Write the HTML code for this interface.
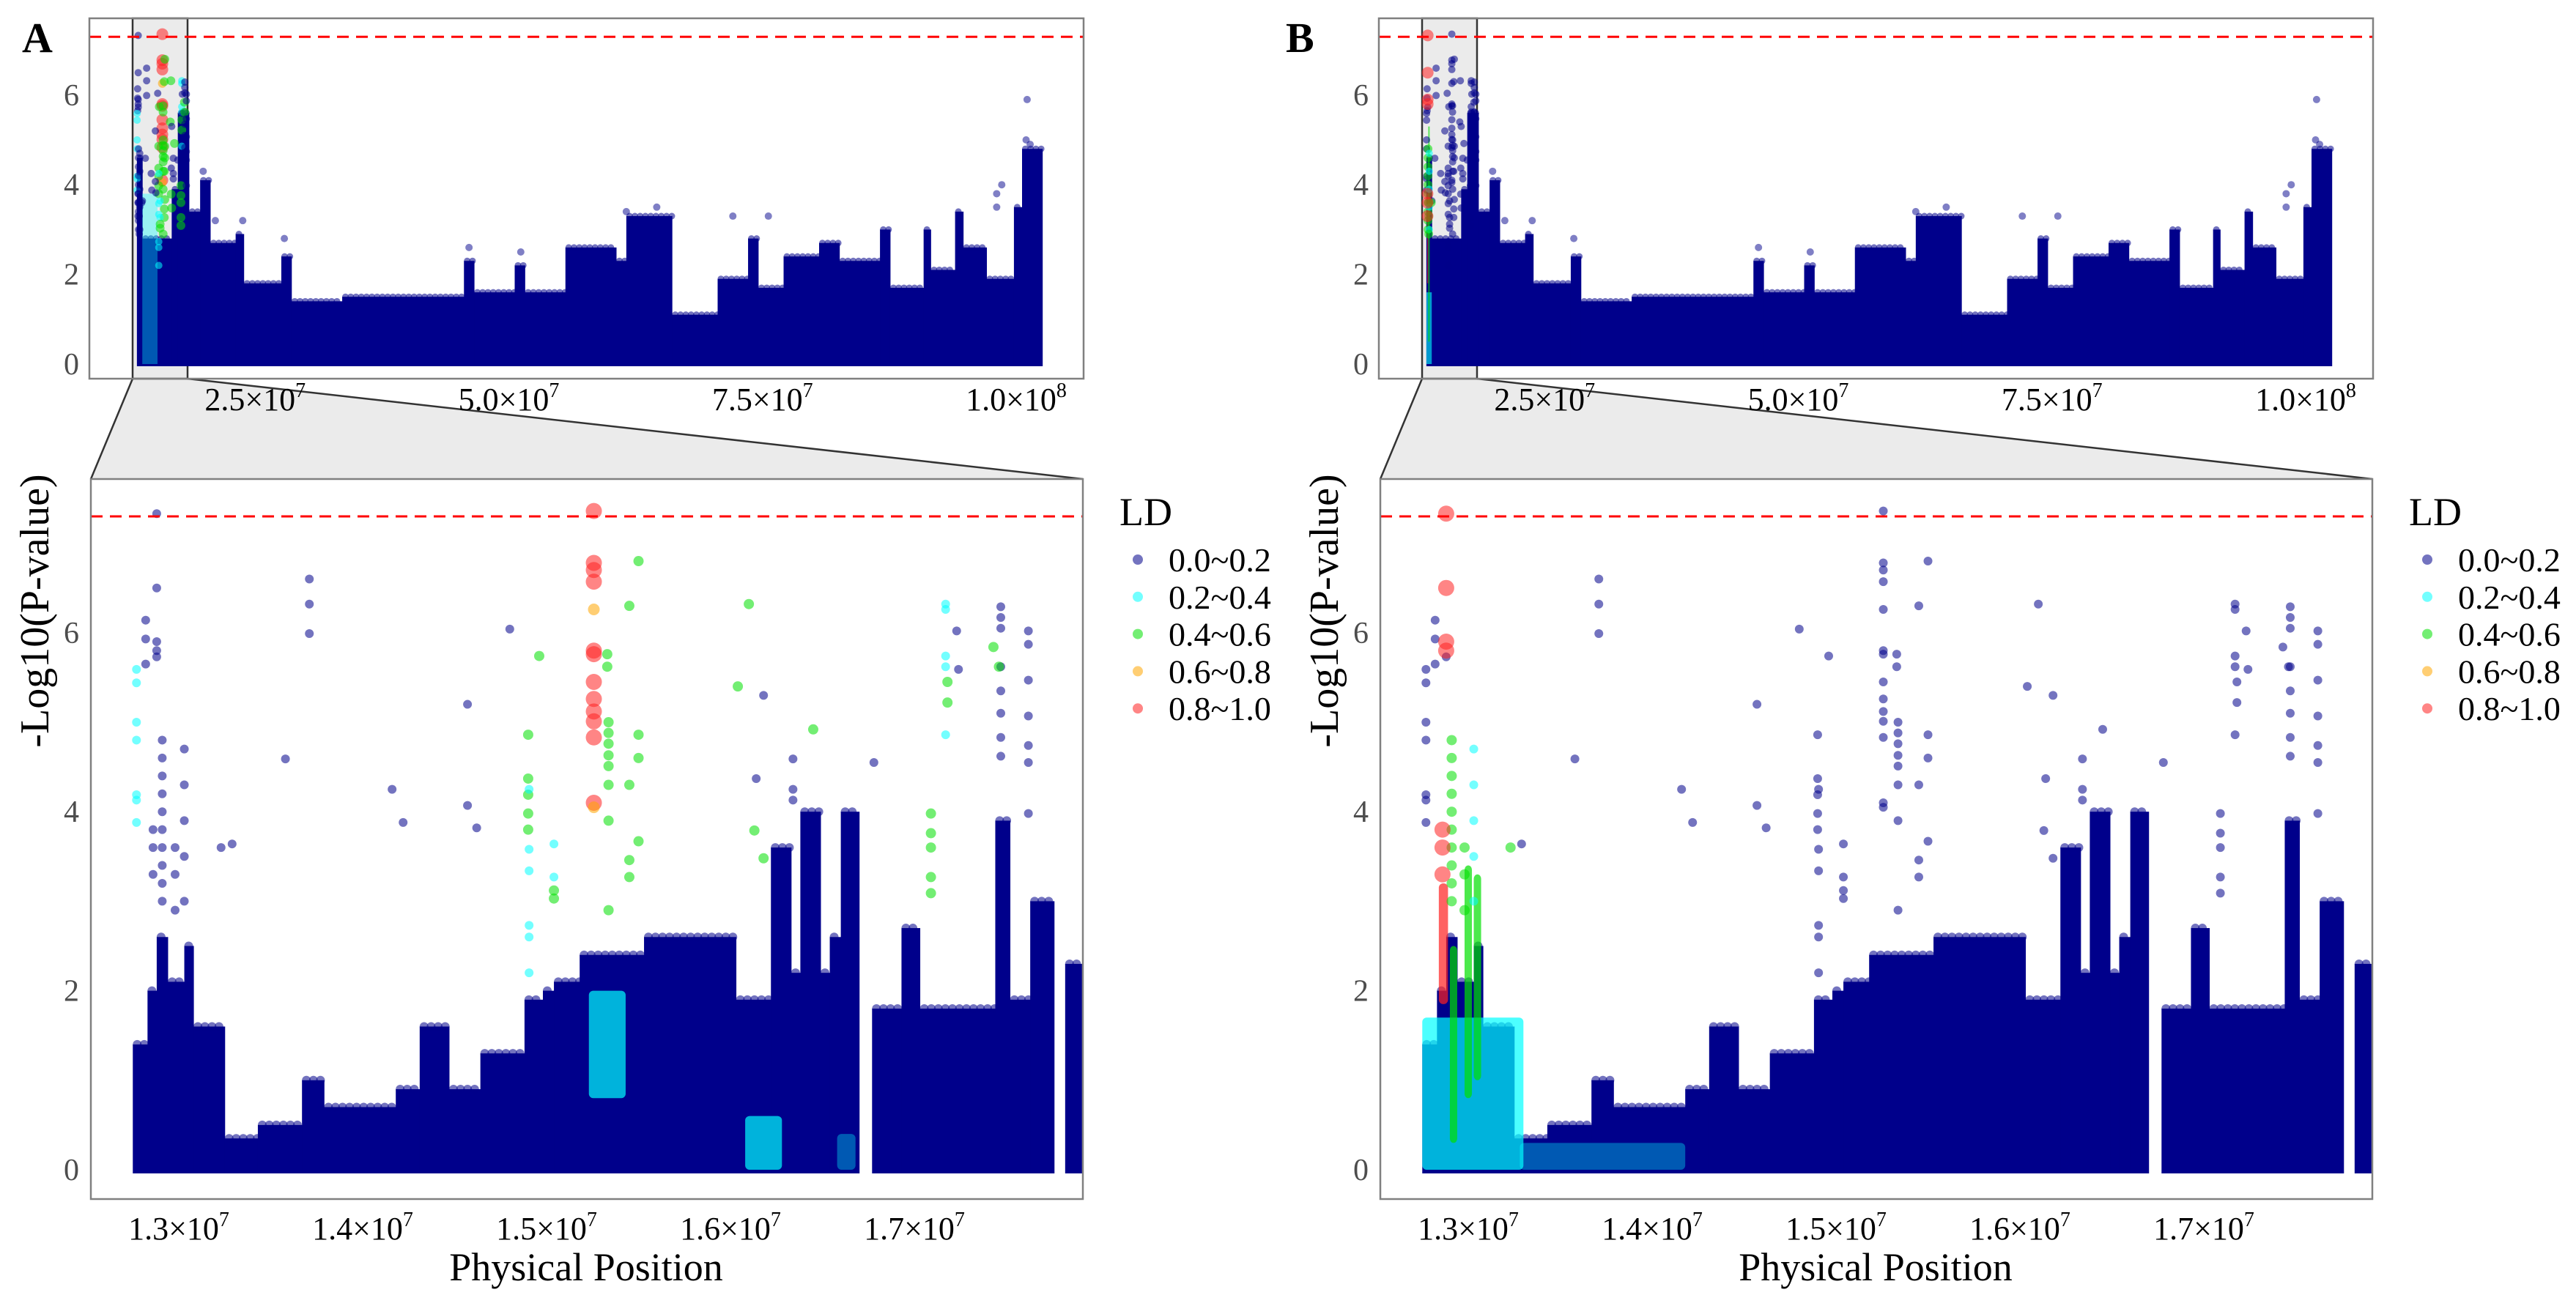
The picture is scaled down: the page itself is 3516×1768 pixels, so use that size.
<!DOCTYPE html>
<html><head><meta charset="utf-8"><style>
html,body{margin:0;padding:0;background:#fff;}
svg{display:block;font-family:"Liberation Serif","DejaVu Serif",serif;}
</style></head><body>
<svg id="fig" width="3516" height="1768" viewBox="0 0 3516 1768"></svg>
<script>
// ---------- DATA ----------
const topStart  = [12.77,13.3,16.2,16.8,17.9,19,20,22.5,23.3,27,28,33,45,46,50,51,55,60,61,65.5,70,73,74,76.5,80,82,86,87,90.3,91,93.4,94.2,96.5,99.2,100];
const topEnd    = [13.3,16.2,16.8,17.9,19,20,22.5,23.3,27,28,33,45,46,50,51,55,60,61,65.5,70,73,74,76.5,80,82,86,87,90.3,91,93.4,94.2,96.5,99.2,100,102];
const topHeight = [4.6,2.8,3.9,5.6,3.4,4.1,2.7,2.9,1.8,2.4,1.4,1.5,2.3,1.6,2.2,1.6,2.6,2.3,3.3,1.1,1.9,2.8,1.7,2.4,2.7,2.3,3.0,1.7,3.0,2.1,3.4,2.6,1.9,3.5,4.8];
const topOutPos = [23.2,27.3,45.5,50.6,61,64,71.5,75,97.5,97.5,98,100.5,100.4,100.8,19.3,20.5];
const topOutVal = [3.2,2.8,2.6,2.5,3.4,3.5,3.3,3.3,3.5,3.8,4.0,5.9,5.0,4.9,4.3,3.2];
const binStart  = [12.77,12.85,12.90,12.96,13.05,13.10,13.27,13.45,13.69,13.81,14.20,14.33,14.49,14.66,14.90,15.00,15.06,15.20,15.55,16.05,16.24,16.35,16.40,16.51,16.56,16.62,16.79,16.95,17.05,17.46,17.54,17.65,17.84];
const binEnd    = [12.85,12.90,12.96,13.05,13.10,13.27,13.45,13.69,13.81,14.20,14.33,14.49,14.66,14.90,15.00,15.06,15.20,15.55,16.05,16.24,16.35,16.40,16.51,16.56,16.62,16.72,16.95,17.05,17.46,17.54,17.65,17.78,17.93];
const binHeight = [1.4,2.0,2.6,2.1,2.5,1.6,0.35,0.5,1.0,0.7,0.9,1.6,0.9,1.3,1.9,2.0,2.1,2.4,2.6,1.9,3.6,2.2,4.0,2.2,2.6,4.0,1.8,2.7,1.8,3.9,1.9,3.0,2.3];
const ovStart = [15.25,16.1,16.6,12.77,13.3,12.92,13.0,12.86,13.05];
const ovEnd   = [15.45,16.3,16.7,13.32,14.2,12.96,13.04,12.91,13.09];
const ovLow   = [0.8,0,0,0,0,0.3,0.8,1.85,1.0];
const ovHigh  = [2.0,0.6,0.4,1.7,0.3,2.5,3.4,3.2,3.3];
const ovPanel = ["A","A","A","B","B","B","B","B","B"];
const ovLd    = [1,1,1,1,1,2,2,4,2];
const snpPos = [15.277,15.277,15.277,15.277,15.277,15.277,15.277,15.277,15.277,15.277,15.277,15.277,15.277,15.277,
 15.357,15.357,15.357,15.357,15.357,15.357,15.357,15.357,15.35,15.35,
 15.52,15.52,15.52,15.52,15.47,15.47,15.47,15.47,14.98,14.92,14.92,14.92,14.92,14.92,
 14.925,14.925,14.925,14.925,14.925,14.925,15.06,15.06,15.06,15.06,
 16.12,16.06,16.47,16.15,16.2,
 12.9,12.9,12.9,12.84,12.84,12.84,12.79,12.79,12.79,12.79,12.79,12.79,12.79,
 13.73,13.73,13.73,13.6,14.18,14.24,14.59,14.59,14.64,14.82,13.31,
 16.2,16.36,16.36,16.36,16.16,
 17.19,17.19,17.19,17.19,17.19,17.2,17.2,17.11,17.11,17.11,17.11,17.11,17.25,17.26,
 17.49,17.49,17.49,17.49,17.49,17.49,17.49,17.49,17.45,17.48,
 17.64,17.64,17.64,17.64,17.64,17.64,17.64,16.8,
 12.9,12.9,12.93,12.93,12.93,12.93,12.93,12.93,12.93,12.93,12.93,12.93,
 13.05,13.05,13.05,13.05,13.05,13.0,13.0,13.0,13.25,12.88,12.88,12.88];
const snpVal = [7.36,6.78,6.7,6.57,6.26,5.8,5.76,5.45,5.26,5.12,5.01,4.83,4.1,4.05,
 5.0,4.88,4.76,4.63,4.51,4.3,3.9,2.9,5.76,5.62,
 6.8,4.86,4.6,3.67,6.3,4.3,3.46,3.27,5.74,4.86,4.37,4.19,3.98,3.8,
 4.25,3.58,3.34,2.73,2.6,2.2,3.64,3.27,3.12,3.03,
 6.32,5.4,4.92,3.79,3.48,
 7.33,6.5,5.73,6.14,5.93,5.65,5.59,5.44,5.0,4.8,4.19,4.13,3.88,
 6.6,6.32,5.99,4.59,4.25,3.88,5.2,4.07,3.82,6.04,3.64,
 5.3,4.59,4.25,4.13,4.37,
 6.32,6.26,5.74,5.62,4.86,5.45,5.22,3.98,3.76,3.6,3.27,3.09,6.02,5.59,
 6.29,6.17,6.05,5.62,5.35,5.1,4.83,4.62,5.84,5.62,
 6.02,5.87,5.47,5.07,4.74,4.55,3.98,4.55,
 5.9,5.8,4.8,4.6,4.4,4.2,4.0,3.8,3.6,3.4,3.2,3.0,
 4.7,4.3,3.9,3.5,3.0,3.6,3.3,2.9,3.6,3.8,3.6,3.3];
const snpLdA = [4,4,4,4,3,4,4,4,4,4,4,4,4,3,
 2,2,2,2,2,2,2,2,2,2, 2,2,2,2,2,2,2,2,2,2,2,2,2,2, 1,1,1,1,1,1,1,1,2,2, 2,2,2,2,2,
 0,0,0,0,0,0,1,1,1,1,1,1,1, 0,0,0,0,0,0,0,0,0,0,0, 0,0,0,0,0,
 1,1,1,1,1,2,2,2,2,2,2,2,0,0, 0,0,0,0,0,0,0,0,2,2, 0,0,0,0,0,0,0,0,
 0,0,0,0,0,0,0,0,0,0,0,0, 0,0,0,0,0,0,0,0,0,0,0,0];
const snpLdB = [0,0,0,0,0,0,0,0,0,0,0,0,0,0,
 0,0,0,0,0,0,0,0,0,0, 0,0,0,0,0,0,0,0,0,0,0,0,0,0, 0,0,0,0,0,0,0,0,0,0, 0,0,0,0,0,
 4,4,0,0,0,0,0,0,0,0,0,0,0, 0,0,0,0,0,0,0,0,0,0,0, 0,0,0,0,0,
 0,0,0,0,0,0,0,0,0,0,0,0,0,0, 0,0,0,0,0,0,0,0,0,0, 0,0,0,0,0,0,0,0,
 4,4,2,2,2,2,2,2,2,2,2,2, 1,1,1,1,1,2,2,2,2,4,4,4];
const ldLabels = ["0.0~0.2","0.2~0.4","0.4~0.6","0.6~0.8","0.8~1.0"];
const topTicks = [25,50,75,100];
const topTickLabels = ["2.5","5.0","7.5","1.0"];
const topTickExp = ["7","7","7","8"];
const botTicks = [13,14,15,16,17];
const botTickLabels = ["1.3","1.4","1.5","1.6","1.7"];
const yTicks = [0,2,4,6];
const threshold = 7.3;

// ---------- DRAW ----------
const NS="http://www.w3.org/2000/svg";
const svg=document.getElementById('fig');
const ldColor=["#00008B","#00FFFF","#00E000","#FFA500","#FF2020"];
function mk(tag,attrs,parent){const e=document.createElementNS(NS,tag);for(const k in attrs)e.setAttribute(k,attrs[k]);(parent||svg).appendChild(e);return e;}
function massBin(parent,x0,x1,yTop,yBase,r){
  const rect=mk('rect',{x:x0,y:yTop,width:x1-x0+0.5,height:yBase-yTop,fill:'#00008B'},parent);
  
  
  for(let x=x0+r;x<=x1;x+=r*1.6){
    const c=mk('circle',{cx:x,cy:yTop,r:r,fill:'#00008B','fill-opacity':0.55},parent);
    
    
  }
}

function drawPanel(label,off){
  const g=mk('g',{});
  
  
  const tx=v=>off+10+v*13.85, ty=v=>497-v*61.2;
  const bx=v=>off+239+(v-13)*251, by=v=>1597-v*122.2;
  const ldOf=i=>label==="A"?snpLdA[i]:snpLdB[i];
  const tri=mk('polygon',{points:`${off+181},517 ${off+256},517 ${off+1478},654 ${off+124},654`,fill:'#ebebeb',stroke:'none'},g);
  
  mk('line',{x1:off+181,y1:517,x2:off+124,y2:654,stroke:'#333',"stroke-width":2.5},g);
  mk('line',{x1:off+256,y1:517,x2:off+1478,y2:654,stroke:'#333',"stroke-width":2.5},g);
  // top panel
  const tp=mk('g',{},g);
  
  mk('rect',{x:off+122,y:25,width:1357,height:492,fill:'#fff'},tp);
  const hl=mk('rect',{x:off+181,y:25,width:75,height:492,fill:'#ebebeb',stroke:'#333',"stroke-width":2.5},tp);
  
  for(let i=0;i<topStart.length;i++) massBin(tp,tx(topStart[i]),tx(topEnd[i]),ty(topHeight[i]),ty(0)+3,4.5);
  if(label==="B"){
    const r=mk('rect',{x:tx(12.77),y:ty(1.6),width:tx(13.3)-tx(12.77),height:ty(0)-ty(1.6),fill:'#00FFFF','fill-opacity':0.6},tp);
    
    const r2=mk('rect',{x:tx(12.86),y:ty(3.8),width:tx(12.95)-tx(12.86),height:ty(1.8)-ty(3.8),fill:'#FF2020','fill-opacity':0.7},tp);
    
    const r3=mk('rect',{x:tx(12.95),y:ty(5.3),width:tx(13.1)-tx(12.95),height:ty(0.5)-ty(5.3),fill:'#00E000','fill-opacity':0.6},tp);
    
  } else {
    const r=mk('rect',{x:tx(13.3),y:ty(3.8),width:tx(14.8)-tx(13.3),height:ty(0)-ty(3.8),fill:'#00FFFF','fill-opacity':0.35},tp);
    
  }
  for(let i=0;i<topOutPos.length;i++){
    const c=mk('circle',{cx:tx(topOutPos[i]),cy:ty(topOutVal[i]),r:5,fill:'#00008B','fill-opacity':0.5},tp);
    
  }
  for(let i=0;i<snpPos.length;i++){
    const ld=ldOf(i);
    const c=mk('circle',{cx:tx(snpPos[i]),cy:ty(snpVal[i]),r:ld===4?8:(ld>=2?6:5),fill:ldColor[ld],'fill-opacity':0.55},tp);
    
  }
  mk('line',{x1:off+122,y1:ty(threshold),x2:off+1479,y2:ty(threshold),stroke:'#ff0000',"stroke-width":3,"stroke-dasharray":"16 10"},tp);
  mk('rect',{x:off+122,y:25,width:1357,height:492,fill:'none',stroke:'#808080',"stroke-width":2.5},tp);
  yTicks.forEach(v=>{const t=mk('text',{x:off+108,y:ty(v)+14,'text-anchor':'end','font-size':42,fill:'#4d4d4d'},tp);t.textContent=v;
    });
  topTicks.forEach((v,i)=>{const t=mk('text',{x:tx(v)-8,y:560,'text-anchor':'middle','font-size':44,fill:'#000'},tp);
    t.textContent=topTickLabels[i]+"×10";const s=mk('tspan',{dy:-18,'font-size':28},t);s.textContent=topTickExp[i];
    });
  const pl=mk('text',{x:off+(label==="A"?30:-5),y:71,'font-size':58,'font-weight':'bold',fill:'#000'},g);pl.textContent=label;
  

  // bottom panel
  const bp=mk('g',{},g);
  
  mk('rect',{x:off+124,y:654,width:1354,height:983,fill:'#fff'},bp);
  for(let i=0;i<binStart.length;i++) massBin(bp,bx(binStart[i]),bx(binEnd[i]),by(binHeight[i]),by(0)+5,6);
  for(let i=0;i<ovStart.length;i++){
    if(ovPanel[i]!==label) continue;
    const r=mk('rect',{x:bx(ovStart[i]),y:by(ovHigh[i]),width:bx(ovEnd[i])-bx(ovStart[i]),height:by(ovLow[i])-by(ovHigh[i]),fill:ldColor[ovLd[i]],'fill-opacity':ovLow[i]===0&&ovHigh[i]<0.5?0.35:0.7,rx:6},bp);
    
  }
  for(let i=0;i<snpPos.length;i++){
    const ld=ldOf(i);
    const c=mk('circle',{cx:bx(snpPos[i]),cy:by(snpVal[i]),r:[6,6,7,8,11][ld],fill:ldColor[ld],'fill-opacity':0.55},bp);
    
  }
  mk('line',{x1:off+124,y1:by(threshold),x2:off+1478,y2:by(threshold),stroke:'#ff0000',"stroke-width":3,"stroke-dasharray":"16 10"},bp);
  mk('rect',{x:off+124,y:654,width:1354,height:983,fill:'none',stroke:'#808080',"stroke-width":2.5},bp);
  yTicks.forEach(v=>{const t=mk('text',{x:off+108,y:by(v)+14,'text-anchor':'end','font-size':42,fill:'#4d4d4d'},bp);t.textContent=v;
    });
  botTicks.forEach((v,i)=>{const t=mk('text',{x:bx(v)+5,y:1692,'text-anchor':'middle','font-size':44,fill:'#000'},bp);
    t.textContent=botTickLabels[i]+"×10";const s=mk('tspan',{dy:-18,'font-size':28},t);s.textContent="7";
    });
  const xt=mk('text',{x:off+800,y:1748,'text-anchor':'middle','font-size':54,fill:'#000'},bp);xt.textContent="Physical Position";
  
  const yt=mk('text',{x:0,y:0,'text-anchor':'middle','font-size':56,fill:'#000',transform:`translate(${off+66},834) rotate(-90)`},bp);yt.textContent="-Log10(P-value)";
  

  const lg=mk('g',{},g);
  
  const lt=mk('text',{x:off+1528,y:717,'font-size':54,fill:'#000'},lg);lt.textContent="LD";
  
  ldLabels.forEach((s,i)=>{
    const y=764+i*50.8;
    const c=mk('circle',{cx:off+1553,cy:y,r:7,fill:ldColor[i],'fill-opacity':0.55},lg);
    
    const t=mk('text',{x:off+1595,y:y+16,'font-size':46,fill:'#000'},lg);t.textContent=s;
    
  });
}
drawPanel("A",0);
drawPanel("B",1760);
</script>
</body></html>
